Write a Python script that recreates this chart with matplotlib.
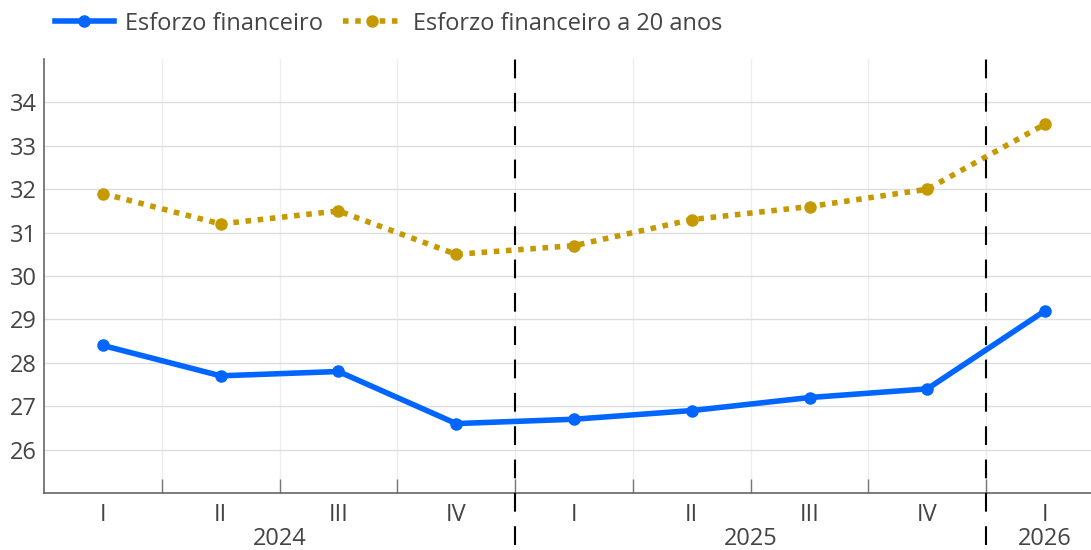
import matplotlib.pyplot as plt
import numpy as np

plt.rcParams['font.family'] = ['Open Sans', 'DejaVu Sans']

quarters = ['I', 'II', 'III', 'IV', 'I', 'II', 'III', 'IV', 'I']
years = ['2024', '2025', '2026']
year_span = [(0, 3), (4, 7), (8, 8)]
esforco = [28.4, 27.7, 27.8, 26.6, 26.7, 26.9, 27.2, 27.4, 29.2]
esforco_20 = [31.9, 31.2, 31.5, 30.5, 30.7, 31.3, 31.6, 32.0, 33.5]

blue = '#0066ff'
gold = '#c49a00'
txt = '#444444'

fig = plt.figure(figsize=(10.91, 5.5), dpi=100)
ax = fig.add_axes([0.0403, 0.1036, 0.9597, 0.7891])

x = np.arange(len(quarters))
ax.plot(x, esforco, color=blue, lw=4, marker='o', ms=8, label='Esforzo financeiro', zorder=3)
ax.plot(x, esforco_20, color=gold, lw=4, ls=(0, (1, 1.2)), marker='o', ms=8,
        label='Esforzo financeiro a 20 anos', zorder=3)

ax.set_xlim(-0.5, 8.39)
ax.set_ylim(25, 35)
ax.set_yticks(np.arange(26, 35))
ax.tick_params(axis='y', length=0, labelsize=17, labelcolor=txt, pad=5)
ax.grid(axis='y', color='#dddddd', lw=1)

ax.set_xticks(x)
ax.set_xticklabels(quarters)
ax.tick_params(axis='x', length=0, labelsize=17, labelcolor=txt, pad=7)
bounds = np.arange(0.5, 8, 1)
ax.set_xticks(bounds, minor=True)
ax.tick_params(axis='x', which='minor', length=10, direction='in', color='#777777', width=1)
ax.grid(axis='x', which='minor', color='#eeeeee', lw=1)
ax.set_axisbelow(True)

for b in [3.5, 7.5]:
    ax.plot([b, b], [-0.12, 1.0], transform=ax.get_xaxis_transform(), color='black',
            lw=1.5, ls=(0, (9, 7)), clip_on=False, zorder=4)

for name, (a, b) in zip(years, year_span):
    ax.text((a + b) / 2, -0.105, name, transform=ax.get_xaxis_transform(), ha='center',
            va='center', fontsize=17, color=txt)

for s in ['top', 'right']:
    ax.spines[s].set_visible(False)
for s in ['left', 'bottom']:
    ax.spines[s].set_color('#666666')
    ax.spines[s].set_linewidth(1.2)

leg = fig.legend(loc='upper left', bbox_to_anchor=(0.05, 0.979), ncol=2, frameon=False,
                 fontsize=17, handlelength=2.5, columnspacing=0.85, handletextpad=0.47,
                 borderpad=0, borderaxespad=0)
for t in leg.get_texts():
    t.set_color(txt)

fig.savefig('out.png', dpi=100)
